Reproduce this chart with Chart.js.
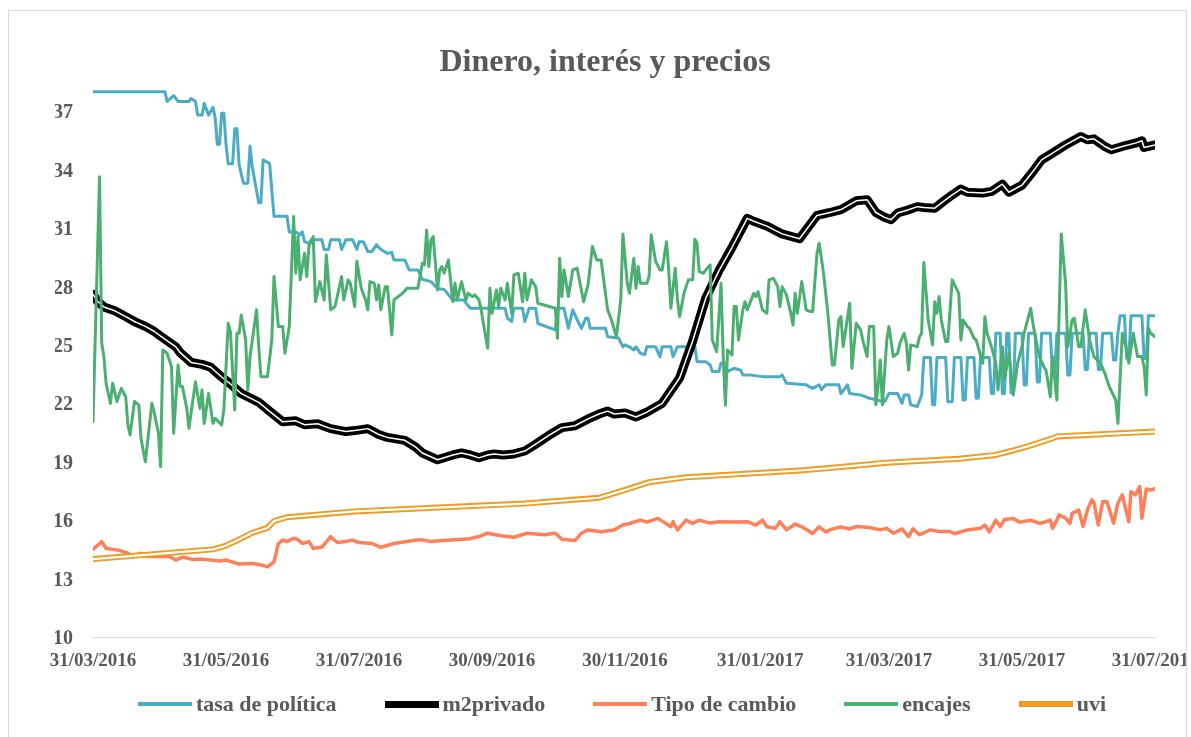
<!DOCTYPE html>
<html>
<head>
<meta charset="utf-8">
<title>Dinero, interés y precios</title>
<script src="https://cdn.jsdelivr.net/npm/chart.js@4.4.1/dist/chart.umd.min.js"></script>
<style>
  html, body { margin: 0; padding: 0; background: #fff; overflow: hidden; }
  #frame { position: absolute; left: 8px; top: 10px; width: 1177px; height: 740px;
           border: 1px solid #d9d9d9; overflow: hidden; background: #fff; }
  #chart { position: absolute; left: 0; top: 0; }
  #legend { position: absolute; left: 0; top: 680px; width: 1177px; height: 26px; box-sizing: border-box;
            padding-left: 49px; display: flex; justify-content: center; align-items: center; gap: 48px;
            font: bold 22px 'Liberation Serif', 'Times New Roman', serif; color: #595959; }
  #legend .item { display: flex; align-items: center; white-space: nowrap; }
  #legend .swatch { display: inline-block; width: 54px; margin-right: 4px; }
</style>
</head>
<body>
<div id="frame">
  <canvas id="chart" width="1177" height="726"></canvas>
  <div id="legend"></div>
</div>
<script>
// x values are days since 31/03/2016
var tickDays = [0, 61, 122, 183, 244, 306, 365, 426, 487];
var tickLabels = ['31/03/2016', '31/05/2016', '31/07/2016', '30/09/2016', '30/11/2016',
                  '31/01/2017', '31/03/2017', '31/05/2017', '31/07/2017'];
var yTicks = [10, 13, 16, 19, 22, 25, 28, 31, 34, 37];

var tasaDays = [0,33,34,37,39,44,45,47,48,50, 51,53,55,56,57,58,59,60,61,62,
  64,65,66,67,69,71,72,73,76,77, 78,81,83,89,90,93,95,96,97,99,
  100,105,106,108,109,113,114,116,119,121, 122,124,126,128,130,132,135,137,138,143,
  145,149,151,155,158,161,165,170,173,189, 190,192,193,197,198,200,203,204,212,213,
  216,218,220,222,224,226,227,228,235,236, 241,243,244,246,248,249,251,253,254,258,
  260,261,265,266,268,276,277,281,283,284, 287,288,290,291,294,297,298,301,307,315,
  316,318,327,330,333,334,336,342,343,346, 347,352,356,363,365,369,371,372,374,375,
  378,380,381,384,385,386,387,391,392,394, 395,398,399,400,401,404,405,406,407,411,
  412,413,414,416,417,418,419,420,421,422, 423,426,427,428,429,432,433,434,435,439,
  440,441,442,446,447,448,449,454,455,456, 457,460,461,462,463,467,468,469,470,471,
  473,474,475,476,481,482,483,484,487];
var tasaValues = [38.0,38.0,37.5,37.8,37.5,37.5,37.65,37.5,36.8,36.8, 37.4,36.8,37.2,36.7,35.3,35.3,36.9,36.9,35.3,34.3,
  34.3,36.1,36.1,34.25,33.3,33.3,35.2,34.15,32.3,32.3, 34.5,34.3,31.6,31.6,30.8,30.8,30.65,30.8,30.3,30.2,
  30.4,30.4,29.9,29.9,30.4,30.4,29.9,30.4,30.4,29.9, 30.3,30.3,29.8,29.8,30.15,29.9,29.7,29.75,29.36,29.36,
  28.85,28.85,28.37,28.25,27.9,27.85,27.3,27.3,26.88,26.88, 26.37,26.2,26.88,26.88,26.2,26.88,26.88,26.1,25.77,26.88,
  26.88,25.85,26.8,26.3,25.85,26.37,26.37,25.85,25.85,25.42, 25.35,24.9,25.0,24.9,24.74,24.9,24.57,24.5,24.9,24.9,
  24.4,24.9,24.9,24.4,24.9,24.9,24.14,24.14,23.97,23.63, 23.63,24.06,24.06,23.63,23.8,23.7,23.46,23.46,23.37,23.37,
  23.46,23.03,22.95,22.77,22.95,22.7,22.95,22.95,22.5,22.95, 22.5,22.43,22.26,22.08,22.5,22.5,22.0,22.43,22.43,21.92,
  21.84,22.43,24.35,24.35,21.92,21.92,24.35,24.35,22.08,22.08, 24.35,24.35,22.17,22.17,24.35,24.35,22.26,22.26,24.35,24.35,
  22.5,22.5,25.6,25.6,22.5,22.5,25.6,25.6,22.53,22.53, 25.6,25.6,22.94,22.94,25.6,25.6,23.1,23.1,25.6,25.6,
  23.53,23.53,25.6,25.6,23.45,23.45,25.6,25.6,23.74,23.74, 25.6,25.6,23.74,23.74,25.6,25.6,24.22,24.22,25.6,26.5,
  26.5,24.3,24.3,26.5,26.5,24.3,24.3,26.5,26.5];

var m2Days = [0,2,5,10,15,19,24,28,31,38, 40,45,50,54,59,63,68,76,82,87,
  93,97,103,109,116,120,126,131,135,143, 148,151,158,165,169,173,177,181,184,188,
  193,198,203,209,215,221,227,232,236,239, 244,249,254,261,269,275,281,287,293,300,
  303,309,316,324,332,338,343,350,355,359, 363,366,369,374,378,381,386,390,394,398,
  401,408,412,417,420,426,431,435,440,446, 453,456,459,464,467,472,478,481,482,487];
var m2Values = [27.6,27.25,26.95,26.75,26.45,26.2,25.95,25.7,25.45,24.9, 24.6,24.1,24.0,23.85,23.35,23.0,22.5,22.05,21.5,21.05,
  21.1,20.9,20.95,20.7,20.55,20.6,20.7,20.4,20.25,20.1, 19.75,19.45,19.1,19.35,19.45,19.35,19.2,19.35,19.4,19.35,
  19.4,19.55,19.9,20.35,20.75,20.85,21.2,21.45,21.6,21.45, 21.5,21.3,21.55,22.0,23.3,25.2,27.4,28.8,30.0,31.5,
  31.35,31.1,30.7,30.45,31.65,31.8,31.95,32.4,32.45,31.8, 31.55,31.43,31.77,31.94,32.1,32.06,32.02,32.37,32.7,33.0,
  32.84,32.8,32.88,33.25,32.84,33.2,33.9,34.5,34.85,35.27, 35.7,35.53,35.58,35.19,35.02,35.19,35.36,35.48,35.14,35.27];

var tipoDays = [0,4,6,9,12,16,18,22,25,31, 35,38,41,46,49,54,58,61,67,73,
  77,80,83,85,87,89,92,94,96,99, 101,105,109,112,116,119,122,128,132,138,
  144,150,155,160,166,173,177,181,187,193, 199,207,212,215,221,224,227,233,239,243,
  246,251,254,259,261,265,266,268,272,275, 278,283,287,294,300,304,307,309,313,315,
  318,322,326,330,333,336,339,343,347,350, 356,361,364,367,371,374,376,379,384,388,
  393,395,401,407,409,411,414,416,418,422, 425,430,434,437,439,440,442,443,446,448,
  449,452,454,456,458,459,461,463,465,468, 470,472,475,476,478,480,481,483,485,487];
var tipoValues = [14.5,14.9,14.55,14.5,14.45,14.3,14.15,14.3,14.13,14.15, 14.13,13.95,14.1,13.98,14.0,13.95,13.9,13.95,13.75,13.78,
  13.7,13.6,13.85,14.8,14.98,14.9,15.07,15.0,14.8,14.9, 14.55,14.62,15.15,14.85,14.9,14.98,14.85,14.8,14.6,14.8,
  14.9,15.0,14.9,14.95,14.99,15.05,15.16,15.33,15.2,15.12, 15.33,15.25,15.33,15.02,14.95,15.33,15.5,15.41,15.5,15.75,
  15.83,16.0,15.9,16.09,15.95,15.66,15.92,15.5,16.0,15.83, 16.0,15.85,15.92,15.9,15.92,15.75,16.0,15.66,15.58,15.92,
  15.5,15.8,15.6,15.32,15.66,15.4,15.55,15.65,15.55,15.67, 15.62,15.5,15.58,15.33,15.55,15.15,15.55,15.25,15.5,15.42,
  15.42,15.3,15.5,15.58,15.75,15.4,16.0,15.67,16.03,16.08, 15.9,16.0,15.83,15.92,16.0,15.58,16.0,16.27,16.1,15.83,
  16.35,16.52,15.67,16.52,17.04,16.9,15.75,16.95,16.95,15.84, 16.87,17.3,15.92,17.46,17.3,17.72,16.1,17.6,17.55,17.62];

var encajesDays = [0,3,4,5,6,8,9,11,13,15, 16,17,19,21,22,23,24,27,28,30,
  31,32,34,36,37,39,40,41,43,44, 47,49,50,51,53,55,56,59,60,62,
  63,65,66,67,68,70,71,72,75,76, 77,80,82,83,85,87,88,90,92,93,
  94,95,97,98,99,101,102,104,106,107, 109,111,114,115,117,118,120,121,123,125,
  126,127,129,130,131,132,134,135,136,137, 138,142,144,147,149,151,152,153,154,155,
  156,158,159,160,161,163,165,166,167,169, 171,172,174,175,177,178,179,181,182,183,
  185,186,187,189,190,192,193,195,197,198, 199,201,203,204,212,213,214,215,216,218,
  220,222,225,227,229,231,233,236,238,240, 242,243,245,246,248,249,250,251,254,255,
  256,258,260,261,263,264,265,267,268,269, 271,273,275,276,277,278,280,281,283,284,
  286,288,289,290,291,293,294,295,296,298, 299,300,303,304,305,307,309,310,312,314,
  315,316,318,320,321,322,323,325,326,327, 329,330,332,333,335,337,339,340,342,343,
  344,347,348,350,352,353,355,356,358,359, 360,361,362,364,365,367,369,370,372,373,
  374,375,378,379,380,381,383,385,386,387, 388,389,391,392,394,397,398,399,401,402,
  404,405,408,409,410,412,414,415,417,418, 420,422,424,426,427,430,431,433,434,436,
  437,439,440,442,444,446,447,449,450,452, 453,455,457,459,462,464,466,469,470,472,
  474,475,477,479,481,482,483,484,485,487];
var encajesValues = [21.06,33.64,25.08,24.4,23.03,22.0,23.03,22.09,22.77,22.34, 20.89,20.37,22.09,21.92,20.2,19.6,19.0,22.0,21.57,20.46,
  18.75,24.74,24.57,23.88,20.46,23.97,22.86,22.86,21.74,20.72, 23.11,21.74,22.69,20.97,22.51,20.97,21.23,20.89,21.66,26.11,
  25.68,21.66,25.6,25.6,26.54,25.25,22.69,24.4,26.8,24.91, 23.37,23.37,25.25,28.51,25.94,25.94,24.57,25.94,31.59,28.68,
  30.56,28.34,29.7,28.51,30.05,30.56,27.22,28.25,27.31,29.62, 26.8,26.97,28.51,27.31,28.34,28.16,26.97,29.3,27.91,27.31,
  26.8,28.25,28.16,27.31,28.08,26.8,27.99,27.99,26.8,25.51, 27.31,27.65,27.91,27.91,27.91,29.19,29.11,30.9,29.02,30.39,
  30.56,27.82,28.85,29.02,28.68,29.36,27.22,28.16,27.31,28.25, 27.31,27.65,27.48,27.57,27.31,26.8,26.11,24.83,27.91,26.62,
  27.82,26.97,27.91,27.31,28.16,26.62,28.59,28.68,27.22,28.68, 27.31,28.34,27.99,27.14,26.88,25.34,29.45,27.48,28.85,27.48,
  28.85,28.94,27.22,28.08,30.05,29.36,29.36,26.8,26.2,25.42, 27.3,30.7,28.16,27.65,29.45,27.91,29.02,28.16,28.16,28.51,
  30.65,29.28,28.85,28.85,30.3,28.85,26.88,28.94,27.31,26.45, 27.65,28.34,28.34,30.42,30.22,28.76,28.68,28.85,29.11,25.25,
  24.65,28.16,24.4,21.9,24.74,24.48,26.97,26.97,25.25,26.8, 27.22,26.8,27.65,27.48,27.74,26.8,26.62,28.34,28.42,27.99,
  26.97,27.99,27.57,26.62,26.02,27.65,26.62,28.25,27.57,26.8, 26.71,26.71,29.7,30.22,28.68,26.62,23.97,23.97,26.28,26.45,
  24.91,27.14,23.8,26.11,25.77,25.25,24.4,25.94,25.94,21.92, 22.86,24.23,21.92,25.25,25.94,24.4,24.57,25.08,25.6,25.08,
  23.71,25.0,24.91,25.42,25.6,29.23,26.28,25.0,27.22,26.62, 27.48,26.28,25.17,25.17,28.34,27.65,25.25,26.28,25.94,25.85,
  25.34,25.25,24.06,26.45,25.6,24.91,24.06,22.69,24.91,23.2, 24.57,22.43,24.06,24.91,25.6,26.88,26.11,24.91,24.4,23.88,
  23.71,22.34,24.4,22.17,30.7,28.16,24.91,26.28,26.37,24.91, 24.91,26.8,25.25,24.4,24.06,23.54,22.86,22.17,20.97,25.6,
  24.74,24.06,25.6,24.4,24.4,23.88,22.43,25.85,25.6,25.42];

var uviDays = [0,55,60,66,73,80,83,89,120,168, 198,232,238,244,255,272,324,335,364,397,
  414,421,429,440,442,487];
var uviValues = [14.0,14.5,14.65,14.95,15.35,15.6,15.95,16.15,16.45,16.7, 16.85,17.15,17.35,17.55,17.95,18.2,18.55,18.65,18.95,19.15,
  19.35,19.55,19.8,20.2,20.3,20.55];

function points(days, values) {
  return days.map(function (d, i) { return { x: d, y: values[i] }; });
}

var serif = "'Liberation Serif', 'Times New Roman', serif";
var grey = '#595959';

var datasets = [
  { label: 'tasa de política', data: points(tasaDays, tasaValues), borderColor: '#4BACC6', borderWidth: 3, order: 10 },
  { label: 'm2privado', data: points(m2Days, m2Values), borderColor: '#000000', borderWidth: 9, order: 9 },
  { label: 'Tipo de cambio', data: points(tipoDays, tipoValues), borderColor: '#FF7F59', borderWidth: 3.5, order: 7 },
  { label: 'encajes', data: points(encajesDays, encajesValues), borderColor: '#4BAF72', borderWidth: 3, order: 6 },
  { label: 'uvi', data: points(uviDays, uviValues), borderColor: '#F39A1E', borderWidth: 6, order: 5 },
  // white centre strokes for the double lines
  { label: 'm2privado', data: points(m2Days, m2Values), borderColor: '#ffffff', borderWidth: 1.5, order: 8 },
  { label: 'uvi', data: points(uviDays, uviValues), borderColor: '#ffffff', borderWidth: 2.2, order: 4 }
];

var chart = new Chart(document.getElementById('chart'), {
  type: 'line',
  data: { datasets: datasets },
  options: {
    responsive: false,
    animation: false,
    layout: { padding: { left: 46, right: 31, top: 0, bottom: 0 } },
    elements: {
      point: { radius: 0, hoverRadius: 0 },
      line: { tension: 0, fill: false, borderJoinStyle: 'round', borderCapStyle: 'round' }
    },
    plugins: {
      legend: { display: false },
      tooltip: { enabled: false },
      title: {
        display: true,
        text: 'Dinero, interés y precios',
        color: grey,
        font: { family: serif, size: 32, weight: 'bold' },
        padding: { top: 32.6, bottom: 0 }
      }
    },
    scales: {
      x: {
        type: 'linear',
        min: 0,
        max: 487,
        grid: { display: false, drawTicks: false },
        border: { display: true, color: '#d9d9d9', width: 1 },
        ticks: {
          autoSkip: false, maxRotation: 0, minRotation: 0, padding: 13,
          color: grey, font: { family: serif, size: 19, weight: 'bold' },
          callback: function (v) { var i = tickDays.indexOf(v); return i < 0 ? '' : tickLabels[i]; }
        },
        afterBuildTicks: function (s) { s.ticks = tickDays.map(function (v) { return { value: v }; }); },
        afterFit: function (s) { s.height = 100; s.paddingLeft = 0; s.paddingRight = 0; }
      },
      y: {
        min: 10,
        max: 38.5,
        grid: { display: false, drawTicks: false },
        border: { display: false },
        ticks: {
          padding: 20, labelOffset: 2, color: grey, font: { family: serif, size: 20, weight: 'bold' }
        },
        afterBuildTicks: function (s) { s.ticks = yTicks.map(function (v) { return { value: v }; }); },
        afterFit: function (s) { s.width = 38; s.paddingTop = 0; s.paddingBottom = 0; }
      }
    }
  }
});

// legend below the plot, built from the first five datasets
var swatchHeight = [4, 7, 4, 4, 6];
var legend = document.getElementById('legend');
chart.data.datasets.slice(0, 5).forEach(function (ds, i) {
  var item = document.createElement('span');
  item.className = 'item';
  var sw = document.createElement('span');
  sw.className = 'swatch';
  sw.style.height = swatchHeight[i] + 'px';
  sw.style.background = ds.borderColor;
  var txt = document.createElement('span');
  txt.textContent = ds.label;
  item.appendChild(sw);
  item.appendChild(txt);
  legend.appendChild(item);
});
</script>
</body>
</html>
